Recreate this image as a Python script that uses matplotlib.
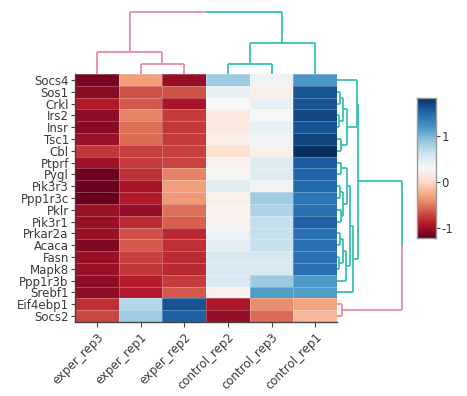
import numpy as np
import matplotlib
matplotlib.use("Agg")
import matplotlib.pyplot as plt
from matplotlib.colors import Normalize

plt.rcParams['font.family'] = ['DejaVu Sans']

# ---------------- data ----------------
genes = ["Socs4", "Sos1", "Crkl", "Irs2", "Insr", "Tsc1", "Cbl", "Ptprf", "Pygl",
         "Pik3r3", "Ppp1r3c", "Pklr", "Pik3r1", "Prkar2a", "Acaca", "Fasn",
         "Mapk8", "Ppp1r3b", "Srebf1", "Eif4ebp1", "Socs2"]
samples = ["exper_rep3", "exper_rep1", "exper_rep2",
           "control_rep2", "control_rep3", "control_rep1"]

exper_rep3 = [-1.15, -1.06, -0.90, -1.05, -1.07, -1.00, -0.78, -0.98, -1.18, -1.19, -1.20,
              -1.00, -1.00, -1.00, -1.10, -1.00, -1.00, -1.04, -1.04, -0.80, -0.70]
exper_rep1 = [-0.33, -0.66, -0.63, -0.45, -0.54, -0.55, -0.74, -0.74, -0.80, -0.94, -0.90,
              -1.02, -0.82, -0.67, -0.62, -0.73, -0.76, -0.88, -0.90, 0.75, 0.85]
exper_rep2 = [-1.03, -0.66, -0.94, -0.75, -0.76, -0.75, -0.73, -0.72, -0.45, -0.33, -0.35,
              -0.53, -0.60, -0.84, -0.80, -0.83, -0.84, -0.75, -0.62, 1.62, 1.55]
control_rep2 = [0.86, 0.43, 0.31, 0.16, 0.18, 0.20, 0.07, 0.25, 0.29, 0.48, 0.22,
                0.25, 0.25, 0.40, 0.46, 0.56, 0.56, 0.55, 0.25, -0.93, -1.03]
control_rep3 = [0.40, 0.22, 0.43, 0.33, 0.43, 0.38, 0.22, 0.52, 0.50, 0.36, 0.85,
                0.78, 0.67, 0.66, 0.66, 0.56, 0.56, 0.86, 1.16, -0.40, -0.55]
control_rep1 = [1.20, 1.62, 1.62, 1.68, 1.62, 1.70, 1.82, 1.58, 1.53, 1.50, 1.42,
                1.45, 1.55, 1.45, 1.45, 1.45, 1.45, 1.18, 1.16, -0.30, -0.20]

color_min, color_max = -1.21, 1.83
cbar_ticks = [-1, 0, 1]

# dendrogram linkages: (child_a, child_b, height); leaves are 0..n-1 in display order
col_link = [
    (1, 2, 10),     # 6
    (0, 6, 21.7),   # 7  exper cluster
    (3, 4, 10),     # 8
    (8, 5, 31),     # 9  control cluster
    (7, 9, 62),     # 10 root
]
row_link = [
    (1, 2, 3),      # 21
    (3, 4, 2),      # 22
    (21, 22, 6),    # 23
    (5, 6, 4),      # 24
    (23, 24, 9.5),  # 25
    (0, 25, 19.5),  # 26
    (7, 8, 4),      # 27
    (9, 10, 3),     # 28
    (11, 12, 4),    # 29
    (28, 29, 6),    # 30
    (27, 30, 10),   # 31
    (13, 14, 3),    # 32
    (15, 16, 2),    # 33
    (32, 33, 5.5),  # 34
    (34, 17, 9),    # 35
    (31, 35, 13),   # 36
    (36, 18, 16),   # 37
    (26, 37, 21),   # 38 teal cluster
    (19, 20, 5),    # 39 pink cluster
    (38, 39, 65),   # 40 root
]
PINK = "#E98FA0"
TEAL = "#37C1B1"
col_branch_colors = [PINK, TEAL]   # colours of root's two children
row_branch_colors = [TEAL, PINK]

data = np.array([exper_rep3, exper_rep1, exper_rep2,
                 control_rep2, control_rep3, control_rep1]).T

# ---------------- figure ----------------
W, H = 467, 396
fig = plt.figure(figsize=(W / 100, H / 100), dpi=100)

def fr(x0, y0, x1, y1):
    return [x0 / W, 1 - y1 / H, (x1 - x0) / W, (y1 - y0) / H]

TXT = "#3a3a3a"
FS = 8.5
hx0, hx1, hy0, hy1 = 75, 337, 74, 322
ax = fig.add_axes(fr(hx0, hy0, hx1, hy1))
norm = Normalize(vmin=color_min, vmax=color_max)
ax.pcolormesh(np.arange(len(samples) + 1), np.arange(len(genes) + 1), data,
              cmap="RdBu", norm=norm, edgecolors=(1, 1, 1, 0.25), linewidth=0.4)
ax.set_xlim(0, len(samples))
ax.set_ylim(len(genes), 0)
ax.set_xticks(np.arange(len(samples)) + 0.5)
ax.set_xticklabels(samples, rotation=45, ha="right", va="top",
                   rotation_mode="anchor", fontsize=FS, color=TXT)
ax.set_yticks(np.arange(len(genes)) + 0.5)
ax.set_yticklabels(genes, fontsize=FS, color=TXT)
ax.tick_params(axis="y", length=3, width=0.8, color="#444444", pad=1.5)
ax.tick_params(axis="x", length=3.5, width=0.8, color="#444444", pad=3)
for s in ["top", "right"]:
    ax.spines[s].set_visible(False)
for s in ["left", "bottom"]:
    ax.spines[s].set_color("#444444")
    ax.spines[s].set_linewidth(1.0)


def dendro_segments(link, n, branch_colors):
    pos = {i: i + 0.5 for i in range(n)}
    hgt = {i: 0.0 for i in range(n)}
    col = {}
    segs = []
    root = n + len(link) - 1
    children = {}
    for k, (a, b, h) in enumerate(link):
        children[n + k] = (a, b)

    def paint(node, c):
        col[node] = c
        if node in children:
            for ch in children[node]:
                paint(ch, c)
    ra, rb = children[root]
    paint(ra, branch_colors[0])
    paint(rb, branch_colors[1])
    for k, (a, b, h) in enumerate(link):
        node = n + k
        pa, pb = pos[a], pos[b]
        pos[node] = (pa + pb) / 2
        hgt[node] = h
        if node == root:
            mid = (pa + pb) / 2
            segs.append(((pa, hgt[a]), (pa, h), col[a]))
            segs.append(((pa, h), (mid, h), col[a]))
            segs.append(((mid, h), (pb, h), col[b]))
            segs.append(((pb, hgt[b]), (pb, h), col[b]))
        else:
            c = col[node]
            segs.append(((pa, hgt[a]), (pa, h), c))
            segs.append(((pa, h), (pb, h), c))
            segs.append(((pb, hgt[b]), (pb, h), c))
    return segs

# column dendrogram (top)
axc = fig.add_axes(fr(hx0, 12, hx1, hy0))
for (x0, y0), (x1, y1), c in dendro_segments(col_link, len(samples), col_branch_colors):
    axc.plot([x0, x1], [y0, y1], color=c, lw=1.3, solid_capstyle="butt", clip_on=False)
axc.set_xlim(0, len(samples))
axc.set_ylim(0, 62)
axc.axis("off")

# row dendrogram (right)
axr = fig.add_axes(fr(hx1, hy0, hx1 + 65, hy1))
for (p0, h0), (p1, h1), c in dendro_segments(row_link, len(genes), row_branch_colors):
    axr.plot([h0, h1], [p0, p1], color=c, lw=1.3, solid_capstyle="butt", clip_on=False)
axr.set_ylim(len(genes), 0)
axr.set_xlim(0, 65)
axr.axis("off")

# colorbar
cax = fig.add_axes(fr(417, 98, 436, 238))
grad = np.linspace(color_min, color_max, 256).reshape(-1, 1)
cax.imshow(grad, cmap="RdBu", norm=norm, aspect="auto", origin="lower",
           extent=[0, 1, color_min, color_max])
cax.set_xticks([])
cax.yaxis.tick_right()
cax.set_yticks(cbar_ticks)
cax.set_yticklabels([str(t) for t in cbar_ticks], fontsize=FS, color=TXT)
cax.tick_params(axis="y", length=3, width=0.8, color="#444444", pad=1)
for s in cax.spines.values():
    s.set_color("#999999")
    s.set_linewidth(1.0)

fig.savefig("out.png", dpi=100)
